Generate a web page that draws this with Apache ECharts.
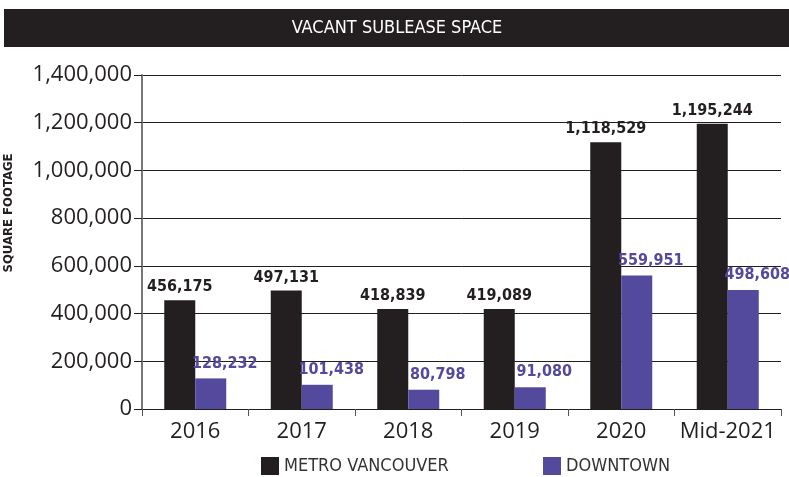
<!doctype html>
<html lang="en">
<head>
    <meta charset="UTF-8">
    <title>Vacant sublease space</title>
    <style>
        html, body { margin: 0; padding: 0; background: #fff; }
        #main { width: 789px; height: 477px; }
    </style>
</head>
<body>
<div id="main"></div>
<script type="text/javascript" src="https://cdn.jsdelivr.net/npm/echarts@6/dist/echarts.min.js"></script>
<script type="text/javascript">
    // data
    let categories = ['2016', '2017', '2018', '2019', '2020', 'Mid-2021'];
    let metroValues = [456175, 497131, 418839, 419089, 1118529, 1195244];
    let downtownValues = [128232, 101438, 80798, 91080, 559951, 498608];
    let seriesNames = ['METRO VANCOUVER', 'DOWNTOWN'];

    let black = '#231f20';
    let purple = '#544a9d';
    let narrow = '"DejaVu Sans Condensed", "Liberation Sans Narrow", sans-serif';
    let plain = '"Open Sans", "Noto Sans", sans-serif';

    let myChart = echarts.init(document.getElementById('main'));

    function fmt(v) {
        return v.toLocaleString('en-US');
    }

    let legendText = {
        fontFamily: narrow,
        fontSize: 18,
        color: '#333'
    };

    let option = {
        animation: false,
        backgroundColor: '#fff',
        graphic: [
            {
                type: 'rect',
                shape: {x: 4, y: 9, width: 785, height: 38},
                style: {fill: black}
            },
            {
                type: 'text',
                x: 397, y: 28,
                style: {
                    text: 'VACANT SUBLEASE SPACE',
                    fill: '#fff',
                    font: '18px ' + narrow,
                    align: 'center',
                    verticalAlign: 'middle'
                }
            },
            {
                type: 'text',
                x: 9, y: 213,
                rotation: Math.PI / 2,
                style: {
                    text: 'SQUARE FOOTAGE',
                    fill: black,
                    font: 'bold 13px ' + narrow,
                    align: 'center',
                    verticalAlign: 'middle'
                }
            }
        ],
        legend: [
            {
                left: 261, top: 457, padding: 0,
                itemWidth: 18, itemHeight: 18,
                icon: 'rect',
                textStyle: legendText,
                data: [seriesNames[0]]
            },
            {
                left: 543, top: 457, padding: 0,
                itemWidth: 18, itemHeight: 18,
                icon: 'rect',
                textStyle: legendText,
                data: [seriesNames[1]]
            }
        ],
        grid: {
            left: 142,
            right: 8,
            top: 75,
            bottom: 68,
            containLabel: false
        },
        xAxis: {
            type: 'category',
            data: categories,
            axisLine: {lineStyle: {color: black, width: 1}},
            axisTick: {show: true, length: 7, lineStyle: {color: '#555'}},
            axisLabel: {
                interval: 0,
                fontFamily: plain,
                fontSize: 22,
                color: black,
                margin: 12
            }
        },
        yAxis: {
            type: 'value',
            min: 0,
            max: 1400000,
            interval: 200000,
            axisLine: {show: true, lineStyle: {color: '#777', width: 2}},
            axisTick: {show: true, length: 8, lineStyle: {color: black}},
            axisLabel: {
                fontFamily: plain,
                fontSize: 22,
                color: black,
                margin: 10,
                formatter: fmt
            },
            splitLine: {lineStyle: {color: black, width: 1}}
        },
        series: [
            {
                name: seriesNames[0],
                type: 'bar',
                data: metroValues,
                barWidth: 31,
                barGap: '0%',
                itemStyle: {color: black},
                label: {
                    show: true,
                    position: 'top',
                    distance: 5,
                    formatter: function (p) { return fmt(p.value); },
                    fontFamily: narrow,
                    fontWeight: 'bold',
                    fontSize: 16,
                    color: black
                }
            },
            {
                name: seriesNames[1],
                type: 'bar',
                data: downtownValues,
                barWidth: 31,
                barGap: '0%',
                itemStyle: {color: purple},
                label: {
                    show: true,
                    position: 'top',
                    distance: 7,
                    offset: [14, 0],
                    formatter: function (p) { return fmt(p.value); },
                    fontFamily: narrow,
                    fontWeight: 'bold',
                    fontSize: 16,
                    color: purple
                }
            }
        ]
    };
    myChart.setOption(option, true);
</script>
</body>
</html>
